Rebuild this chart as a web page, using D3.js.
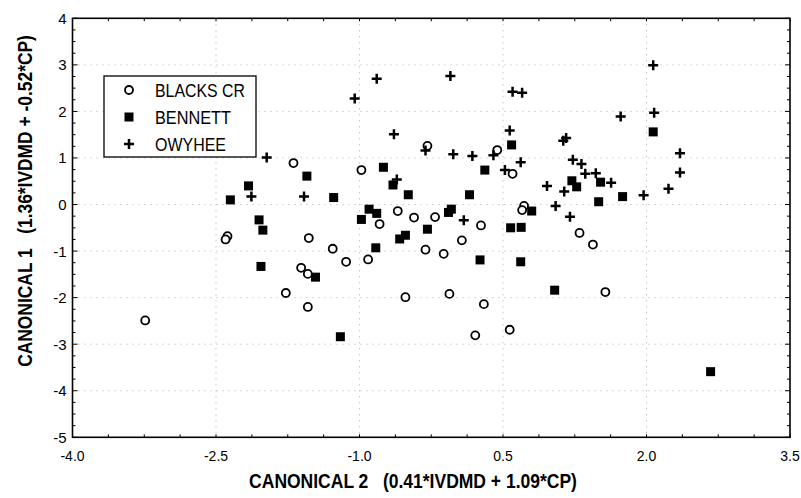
<!DOCTYPE html>
<html>
<head>
<meta charset="utf-8">
<script src="https://cdn.jsdelivr.net/npm/d3@7"></script>
<style>
  body { margin: 0; background: #fff; }
  text { font-family: "Liberation Sans", Arial, sans-serif; fill: #000; }
</style>
</head>
<body>
<div id="chart"></div>
<script>
// data (canonical 2, canonical 1)
var blacksCr = [
  [-3.24, -2.49], [-2.38, -0.68], [-2.40, -0.75], [-1.69, 0.89], [-1.53, -0.72],
  [-1.61, -1.36], [-1.54, -1.49], [-1.77, -1.90], [-1.54, -2.20], [-0.29, 1.26],
  [0.44, 1.17], [-0.98, 0.74], [0.60, 0.66], [0.72, -0.03], [0.70, -0.12],
  [-0.60, -0.14], [-0.79, -0.42], [-0.43, -0.28], [-0.21, -0.27], [0.27, -0.45],
  [0.07, -0.77], [-1.28, -0.95], [-1.14, -1.23], [-0.91, -1.18], [-0.31, -0.97],
  [-0.12, -1.06], [-0.52, -1.99], [-0.06, -1.92], [0.30, -2.14], [0.21, -2.81],
  [0.57, -2.69], [1.30, -0.61], [1.44, -0.86], [1.57, -1.88]
];
var bennett = [
  [-2.35, 0.10], [-2.16, 0.40], [-1.55, 0.61], [-2.05, -0.33], [-2.01, -0.55],
  [-2.03, -1.33], [-1.46, -1.56], [-1.20, -2.84], [-1.27, 0.15], [-0.75, 0.80],
  [-0.65, 0.42], [-0.49, 0.21], [0.15, 0.21], [0.31, 0.74], [0.59, 1.28],
  [0.80, -0.14], [-0.90, -0.10], [-0.82, -0.19], [-0.98, -0.32], [-0.07, -0.17],
  [-0.04, -0.10], [-0.29, -0.53], [-0.58, -0.74], [-0.52, -0.66], [0.58, -0.50],
  [0.69, -0.49], [-0.83, -0.93], [0.26, -1.19], [0.685, -1.23], [1.04, -1.84],
  [1.22, 0.51], [1.27, 0.38], [1.52, 0.48], [1.75, 0.17], [1.50, 0.06],
  [2.07, 1.56], [2.67, -3.59]
];
var owyhee = [
  [-1.97, 1.01], [-2.13, 0.17], [-1.58, 0.17], [-1.05, 2.28], [-0.82, 2.70],
  [-0.05, 2.76], [0.60, 2.42], [0.70, 2.40], [-0.64, 1.51], [-0.31, 1.16],
  [-0.02, 1.08], [0.18, 1.04], [0.40, 1.06], [0.57, 1.59], [0.685, 0.91],
  [1.13, 1.37], [1.16, 1.43], [2.07, 2.99], [2.08, 1.97], [1.73, 1.89],
  [1.23, 0.96], [1.32, 0.87], [2.35, 1.10], [1.36, 0.66], [1.47, 0.67],
  [1.63, 0.47], [1.14, 0.28], [1.97, 0.20], [2.23, 0.34], [2.35, 0.69],
  [1.20, -0.26], [1.05, -0.03], [0.96, 0.40], [0.52, 0.74], [-0.61, 0.54],
  [0.09, -0.34]
];

var xTicks = [-4.0, -2.5, -1.0, 0.5, 2.0, 3.5];
var yTicks = [4, 3, 2, 1, 0, -1, -2, -3, -4, -5];
var seriesNames = ["BLACKS CR", "BENNETT", "OWYHEE"];
var xTitle = "CANONICAL 2   (0.41*IVDMD + 1.09*CP)";
var yTitle = "CANONICAL 1   (1.36*IVDMD + -0.52*CP)";

const width = 801;
const height = 498;
const margin = { top: 18.3, left: 72.5, bottom: 60.7, right: 11 };

const marker = { r: 4, square: 9, cross: 10 };
const grid = { color: "#9a9a9a", dash: "1,5" };
// the original lettering is tall and narrow, so widths are pinned
const legendWidths = [90, 76, 71];

var svg = d3
  .select("#chart")
  .append("svg")
  .attr("width", width)
  .attr("height", height);

var xScale = d3
  .scaleLinear()
  .domain([-4, 3.5])
  .range([margin.left, width - margin.right]);

var yScale = d3
  .scaleLinear()
  .domain([-5, 4])
  .range([height - margin.bottom, margin.top]);

var x0 = xScale.range()[0], x1 = xScale.range()[1];
var y0 = yScale.range()[0], y1 = yScale.range()[1];

// squeeze a text horizontally so it spans the given width
function squeeze(sel, targetWidth, baseTransform) {
  var w = sel.node().getComputedTextLength();
  sel.attr("transform", baseTransform + " scale(" + Math.min(1, targetWidth / w) + ",1)");
}

// dotted grid on the inner major ticks
svg.append("g")
  .selectAll("line")
  .data(xTicks.slice(1, -1))
  .enter()
  .append("line")
  .attr("x1", function(d) { return xScale(d); })
  .attr("x2", function(d) { return xScale(d); })
  .attr("y1", y1)
  .attr("y2", y0)
  .attr("stroke", grid.color)
  .attr("stroke-width", 0.8)
  .attr("stroke-dasharray", grid.dash);

svg.append("g")
  .selectAll("line")
  .data(yTicks.slice(1, -1))
  .enter()
  .append("line")
  .attr("x1", x0)
  .attr("x2", x1)
  .attr("y1", function(d) { return yScale(d); })
  .attr("y2", function(d) { return yScale(d); })
  .attr("stroke", grid.color)
  .attr("stroke-width", 0.8)
  .attr("stroke-dasharray", grid.dash);

// inward tick marks on all four sides
var xMinor = d3.range(-4, 3.5001, 0.375);
var yMinor = d3.range(-5, 4.0001, 0.25);
var ticks = svg.append("g").attr("stroke", "#000").attr("stroke-width", 1);

xMinor.forEach(function(v) {
  var major = Math.abs(Math.round(v / 1.5) * 1.5 - v) < 1e-6;
  var len = major ? 5 : 3;
  ticks.append("line").attr("x1", xScale(v)).attr("x2", xScale(v)).attr("y1", y0).attr("y2", y0 - len);
  ticks.append("line").attr("x1", xScale(v)).attr("x2", xScale(v)).attr("y1", y1).attr("y2", y1 + len);
});
yMinor.forEach(function(v) {
  var major = Math.abs(Math.round(v) - v) < 1e-6;
  var len = major ? 5 : 3;
  ticks.append("line").attr("x1", x0).attr("x2", x0 + len).attr("y1", yScale(v)).attr("y2", yScale(v));
  ticks.append("line").attr("x1", x1).attr("x2", x1 - len).attr("y1", yScale(v)).attr("y2", yScale(v));
});

// frame
svg.append("rect")
  .attr("x", x0)
  .attr("y", y1)
  .attr("width", x1 - x0)
  .attr("height", y0 - y1)
  .attr("fill", "none")
  .attr("stroke", "#000")
  .attr("stroke-width", 1.6);

// tick labels
svg.append("g")
  .selectAll("text")
  .data(xTicks)
  .enter()
  .append("text")
  .attr("x", function(d) { return xScale(d); })
  .attr("y", y0 + 23.5)
  .attr("text-anchor", "middle")
  .attr("font-size", 14)
  .text(function(d) { return d3.format(".1f")(d).replace("−", "-"); });

svg.append("g")
  .selectAll("text")
  .data(yTicks)
  .enter()
  .append("text")
  .attr("x", x0 - 6)
  .attr("y", function(d) { return yScale(d) + 5.5; })
  .attr("text-anchor", "end")
  .attr("font-size", 15)
  .text(function(d) { return String(d); });

// axis titles
var xTitleText = svg.append("text")
  .attr("text-anchor", "middle")
  .attr("font-size", 20)
  .attr("font-weight", "bold")
  .style("white-space", "pre")
  .text(xTitle);
squeeze(xTitleText, 328, "translate(413,488)");

var yTitleText = svg.append("text")
  .attr("text-anchor", "middle")
  .attr("font-size", 20)
  .attr("font-weight", "bold")
  .style("white-space", "pre")
  .text(yTitle);
squeeze(yTitleText, 332, "translate(31.5,201) rotate(-90)");

// marker drawing helpers
function drawCircles(g, data) {
  g.selectAll("circle")
    .data(data)
    .enter()
    .append("circle")
    .attr("cx", function(d) { return xScale(d[0]); })
    .attr("cy", function(d) { return yScale(d[1]); })
    .attr("r", marker.r)
    .attr("fill", "#fff")
    .attr("stroke", "#000")
    .attr("stroke-width", 1.8);
}
function drawSquares(g, data) {
  g.selectAll("rect")
    .data(data)
    .enter()
    .append("rect")
    .attr("x", function(d) { return xScale(d[0]) - marker.square / 2; })
    .attr("y", function(d) { return yScale(d[1]) - marker.square / 2; })
    .attr("width", marker.square)
    .attr("height", marker.square)
    .attr("fill", "#000");
}
function drawCrosses(g, data) {
  var h = marker.cross / 2;
  g.selectAll("path")
    .data(data)
    .enter()
    .append("path")
    .attr("d", function(d) {
      var cx = xScale(d[0]), cy = yScale(d[1]);
      return "M" + (cx - h) + "," + cy + "H" + (cx + h) + "M" + cx + "," + (cy - h) + "V" + (cy + h);
    })
    .attr("stroke", "#000")
    .attr("stroke-width", 2.5)
    .attr("fill", "none");
}

drawCircles(svg.append("g"), blacksCr);
drawSquares(svg.append("g"), bennett);
drawCrosses(svg.append("g"), owyhee);

// legend
var legend = svg.append("g");
legend.append("rect")
  .attr("x", 104)
  .attr("y", 76)
  .attr("width", 152)
  .attr("height", 81)
  .attr("fill", "#fff")
  .attr("stroke", "#000")
  .attr("stroke-width", 1.3);

var legendY = d3.scalePoint().domain(seriesNames).range([90, 144]);
var legendX = 129;
drawCircles(legend.append("g"), [[xScale.invert(legendX), yScale.invert(legendY(seriesNames[0]))]]);
drawSquares(legend.append("g"), [[xScale.invert(legendX), yScale.invert(legendY(seriesNames[1]))]]);
drawCrosses(legend.append("g"), [[xScale.invert(legendX), yScale.invert(legendY(seriesNames[2]))]]);

seriesNames.forEach(function(name, i) {
  var t = legend.append("text")
    .attr("font-size", 17.5)
    .text(name);
  squeeze(t, legendWidths[i], "translate(155," + (legendY(name) + 6.5) + ")");
});
</script>
</body>
</html>
